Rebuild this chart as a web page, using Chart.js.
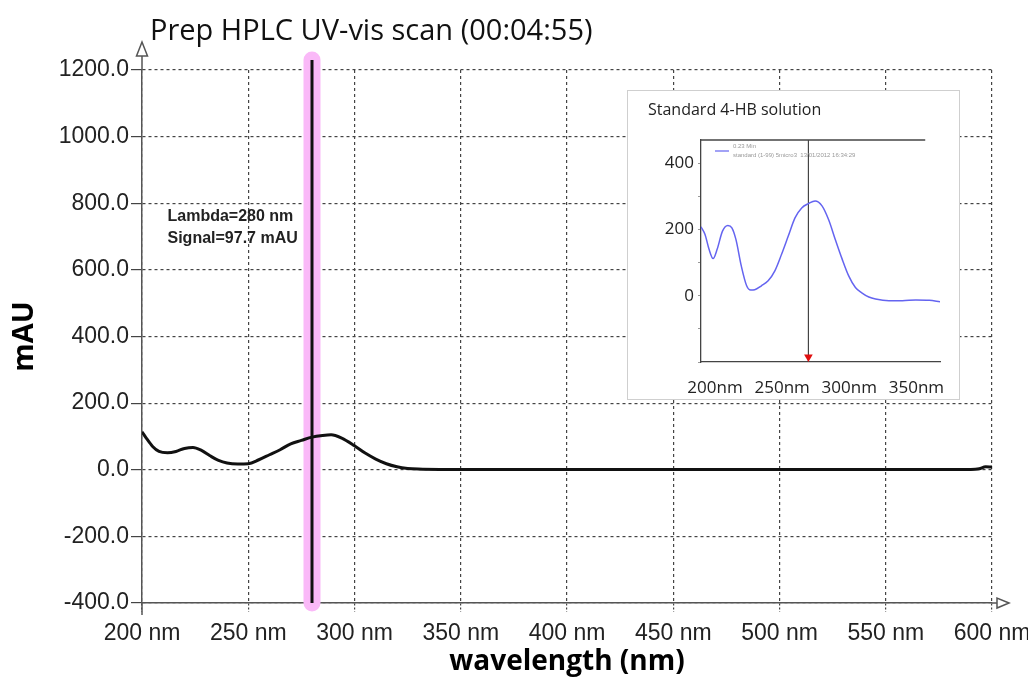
<!DOCTYPE html>
<html>
<head>
<meta charset="utf-8">
<script src="https://cdn.jsdelivr.net/npm/chart.js@4/dist/chart.umd.min.js"></script>
<style>
  body { margin: 0; background: #fff; }
  #wrap { position: relative; width: 1028px; height: 681px; }
  #mainChart { position: absolute; left: 0; top: 0; }
  #insetChart { position: absolute; left: 627px; top: 90px; }
</style>
</head>
<body>
<div id="wrap">
  <canvas id="mainChart" width="1028" height="681"></canvas>
  <canvas id="insetChart" width="333" height="310"></canvas>
</div>
<script>
// main scan (mAU vs nm)
const wavelengths = [200, 202, 205, 208, 212, 216, 220, 224, 228, 232, 236, 240, 245, 250, 255, 260, 265, 270, 275, 280,
                     285, 289, 294, 300, 305, 310, 315, 320, 325, 330, 340, 360, 400, 450, 500, 550, 590, 594, 597, 600];
const signal = [114, 95, 70, 55, 51, 55, 64, 67, 58, 42, 28, 20, 17, 18, 30, 45, 60, 78, 88, 98,
                103, 105, 95, 72, 50, 32, 18, 9, 4, 2, 1, 1, 1, 1, 1, 1, 1, 3, 9, 8];
const xTicks = [200, 250, 300, 350, 400, 450, 500, 550, 600];
const yTicks = [-400, -200, 0, 200, 400, 600, 800, 1000, 1200];

const markerWavelength = 280;
const markerSignal = 97.7;
const markerRange = [-400, 1230];

// inset: standard 4-HB solution
const insetWavelengths = [200, 203, 206, 209, 212, 216, 220, 223, 226, 230, 234, 237, 240, 245, 250, 255, 260, 265,
                          270, 275, 280, 285, 290, 295, 300, 305, 310, 315, 320, 325, 330, 340, 350, 360, 370, 378];
const insetAbsorbance = [208, 185, 140, 112, 140, 195, 212, 205, 170, 90, 30, 17, 18, 30, 45, 75, 125, 180,
                         235, 265, 278, 286, 272, 230, 170, 112, 60, 25, 8, -4, -10, -15, -15, -13, -14, -18];
const insetXTicks = [200, 250, 300, 350];
const insetYTicks = [0, 200, 400];
const insetRange = [-200, 470];

const pts = (xs, ys) => xs.map((x, i) => ({ x: x, y: ys[i] }));

const decor = {
  id: "decor",
  afterDraw(chart) {
    const { ctx, chartArea: a, scales: { x, y } } = chart;
    ctx.save();
    ctx.strokeStyle = "#555";
    ctx.lineWidth = 1.5;
    // y axis extension and arrow
    ctx.beginPath();
    ctx.moveTo(a.left, a.top);
    ctx.lineTo(a.left, 56);
    ctx.moveTo(a.left, a.bottom);
    ctx.lineTo(a.left, a.bottom + 12);
    ctx.stroke();
    ctx.fillStyle = "#fff";
    ctx.beginPath();
    ctx.moveTo(a.left, 42);
    ctx.lineTo(a.left - 5.5, 56);
    ctx.lineTo(a.left + 5.5, 56);
    ctx.closePath();
    ctx.fill();
    ctx.stroke();
    // x axis arrow
    ctx.beginPath();
    ctx.moveTo(a.right, a.bottom);
    ctx.lineTo(a.right + 5, a.bottom);
    ctx.stroke();
    ctx.beginPath();
    ctx.moveTo(a.right + 17, a.bottom);
    ctx.lineTo(a.right + 5, a.bottom - 5);
    ctx.lineTo(a.right + 5, a.bottom + 5);
    ctx.closePath();
    ctx.fill();
    ctx.stroke();

    // title
    ctx.fillStyle = "#111";
    ctx.font = "29px 'Open Sans'";
    ctx.textBaseline = "middle";
    ctx.textAlign = "left";
    ctx.fillText("Prep HPLC UV-vis scan (00:04:55)", 150, 32);

    // readout
    ctx.fillStyle = "#222";
    ctx.font = "bold 16px 'Liberation Sans'";
    const tx = x.getPixelForValue(212);
    const ty = y.getPixelForValue(760);
    ctx.fillText("Lambda=" + markerWavelength + " nm", tx, ty);
    ctx.fillText("Signal=" + markerSignal + " mAU", tx, ty + 22);
    ctx.restore();
  }
};

// first dataset is drawn on top
new Chart(document.getElementById("mainChart"), {
  type: "line",
  data: {
    datasets: [
      {
        data: pts([markerWavelength, markerWavelength], markerRange),
        borderColor: "#111",
        borderWidth: 3,
        pointRadius: 0,
        clip: false
      },
      {
        data: pts(wavelengths, signal),
        borderColor: "#111",
        borderWidth: 3,
        pointRadius: 0,
        cubicInterpolationMode: "monotone"
      },
      {
        data: pts([markerWavelength, markerWavelength], markerRange),
        borderColor: "rgb(250, 185, 248)",
        borderWidth: 17,
        borderCapStyle: "round",
        pointRadius: 0,
        clip: false
      }
    ]
  },
  options: {
    responsive: false,
    animation: false,
    devicePixelRatio: 1,
    layout: { padding: { top: 70, right: 36, bottom: 0, left: 0 } },
    plugins: { legend: { display: false }, tooltip: { enabled: false } },
    scales: {
      x: {
        type: "linear",
        min: 200,
        max: 600,
        afterBuildTicks: s => { s.ticks = xTicks.map(v => ({ value: v })); },
        afterFit: s => { s.height = 78; s.paddingLeft = 0; s.paddingRight = 0; },
        ticks: {
          color: "#222",
          font: { family: "'Liberation Sans'", size: 23 },
          padding: 8,
          maxRotation: 0,
          callback: v => v + " nm"
        },
        grid: { color: "#444", lineWidth: 1.2, tickLength: 9, tickBorderDash: [2, 2] },
        border: { display: true, color: "#555", width: 1.5, dash: [3, 3] },
        title: {
          display: true,
          text: "wavelength (nm)",
          color: "#000",
          font: { family: "'Open Sans'", size: 28, weight: "bold" },
          padding: { top: 0, bottom: 2 }
        }
      },
      y: {
        min: -400,
        max: 1200,
        afterBuildTicks: s => { s.ticks = yTicks.map(v => ({ value: v })); },
        afterFit: s => { s.width = 142; s.paddingTop = 0; s.paddingBottom = 0; },
        ticks: {
          color: "#222",
          font: { family: "'Liberation Sans'", size: 23 },
          padding: 2,
          callback: v => v.toFixed(1)
        },
        grid: { color: "#444", lineWidth: 1.2, tickLength: 11 },
        border: { display: true, color: "#555", width: 1.5, dash: [3, 3] },
        title: {
          display: true,
          text: "mAU",
          color: "#000",
          font: { family: "'Open Sans'", size: 29, weight: "bold" },
          padding: { top: 7, bottom: 0 }
        }
      }
    }
  },
  plugins: [decor]
});

const insetDecor = {
  id: "insetDecor",
  beforeDraw(chart) {
    const { ctx, width, height } = chart;
    ctx.save();
    ctx.fillStyle = "#fff";
    ctx.fillRect(0, 0, width, height);
    ctx.strokeStyle = "#cfcfcf";
    ctx.lineWidth = 1;
    ctx.strokeRect(0.5, 0.5, width - 1, height - 1);
    ctx.restore();
  },
  afterDraw(chart) {
    const { ctx, chartArea: a, scales: { x } } = chart;
    ctx.save();
    // top frame line
    ctx.strokeStyle = "#444";
    ctx.lineWidth = 1.3;
    ctx.beginPath();
    ctx.moveTo(a.left, a.top);
    ctx.lineTo(x.getPixelForValue(367), a.top);
    ctx.stroke();
    // title
    ctx.fillStyle = "#222";
    ctx.font = "16px 'Open Sans'";
    ctx.textBaseline = "middle";
    ctx.fillText("Standard 4-HB solution", 21, 20);
    // tiny legend
    ctx.strokeStyle = "rgb(100, 100, 240)";
    ctx.lineWidth = 1.2;
    ctx.beginPath();
    ctx.moveTo(a.left + 14, a.top + 11);
    ctx.lineTo(a.left + 28, a.top + 11);
    ctx.stroke();
    ctx.fillStyle = "#999";
    ctx.font = "6px 'Liberation Sans'";
    ctx.fillText("0.23 Min", a.left + 32, a.top + 6);
    ctx.fillText("standard (1-99) 5micro3  13/01/2012 16:34:29", a.left + 32, a.top + 15);
    ctx.restore();
  }
};

new Chart(document.getElementById("insetChart"), {
  type: "line",
  data: {
    datasets: [
      {
        data: pts([markerWavelength], [-185]),
        showLine: false,
        pointStyle: "triangle",
        rotation: 180,
        pointRadius: 5,
        backgroundColor: "#e01010",
        borderColor: "#e01010",
        borderWidth: 0
      },
      {
        data: pts(insetWavelengths, insetAbsorbance),
        borderColor: "rgb(100, 100, 240)",
        borderWidth: 1.5,
        pointRadius: 0,
        cubicInterpolationMode: "monotone"
      },
      {
        data: pts([markerWavelength, markerWavelength], insetRange),
        borderColor: "#444",
        borderWidth: 1.2,
        pointRadius: 0
      }
    ]
  },
  options: {
    responsive: false,
    animation: false,
    devicePixelRatio: 1,
    layout: { padding: { top: 50, right: 20, bottom: 0, left: 0 } },
    plugins: { legend: { display: false }, tooltip: { enabled: false } },
    scales: {
      x: {
        type: "linear",
        min: 200,
        max: 378,
        afterBuildTicks: s => { s.ticks = insetXTicks.map(v => ({ value: v })); },
        afterFit: s => { s.height = 38; s.paddingLeft = 0; s.paddingRight = 0; },
        ticks: {
          color: "#222",
          font: { family: "'Open Sans'", size: 17 },
          padding: 8,
          labelOffset: 14,
          maxRotation: 0,
          callback: v => v + "nm"
        },
        grid: { display: false },
        border: { display: true, color: "#444", width: 1.3 }
      },
      y: {
        min: insetRange[0],
        max: insetRange[1],
        afterBuildTicks: s => {
          const t = [];
          for (let v = -200; v <= 450; v += 50) t.push({ value: v });
          s.ticks = t;
        },
        afterFit: s => { s.width = 74; s.paddingTop = 0; s.paddingBottom = 0; },
        ticks: {
          color: "#222",
          font: { family: "'Open Sans'", size: 17 },
          padding: 4,
          callback: v => (insetYTicks.includes(v) ? String(v) : "")
        },
        grid: { drawOnChartArea: false, tickLength: 3, color: "#999" },
        border: { display: true, color: "#444", width: 1.3 }
      }
    }
  },
  plugins: [insetDecor]
});
</script>
</body>
</html>
